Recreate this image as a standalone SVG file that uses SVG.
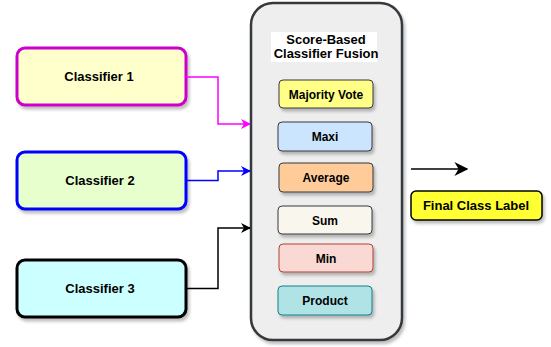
<svg xmlns="http://www.w3.org/2000/svg" width="551" height="347" viewBox="0 0 551 347">
  <style>
    text { font-family: "Liberation Sans", Arial, Helvetica, sans-serif; font-weight: bold; fill: #000; text-anchor: middle; }
    .big { font-size: 13px; }
    .small { font-size: 12px; }
    .box { filter: url(#shadow); }
    .conn { fill: none; stroke-width: 1.5; }
  </style>
  <defs>
    <filter id="shadow" x="-10%" y="-10%" width="130%" height="140%">
      <feDropShadow dx="2" dy="3" stdDeviation="1.5" flood-color="#000" flood-opacity="0.25"/>
    </filter>
    <marker id="arrMag" viewBox="0 0 10 10" refX="9" refY="5" markerWidth="10" markerHeight="10" markerUnits="userSpaceOnUse" orient="auto">
      <path d="M0,0 L10,5 L0,10 L3,5 Z" fill="#FF00FF"/>
    </marker>
    <marker id="arrBlue" viewBox="0 0 10 10" refX="9" refY="5" markerWidth="10" markerHeight="10" markerUnits="userSpaceOnUse" orient="auto">
      <path d="M0,0 L10,5 L0,10 L3,5 Z" fill="#0000FF"/>
    </marker>
    <marker id="arrBlack" viewBox="0 0 10 10" refX="9" refY="5" markerWidth="10" markerHeight="10" markerUnits="userSpaceOnUse" orient="auto">
      <path d="M0,0 L10,5 L0,10 L3,5 Z" fill="#000"/>
    </marker>
    <marker id="arrBig" viewBox="0 0 10 10" refX="9" refY="5" markerWidth="15" markerHeight="14" markerUnits="userSpaceOnUse" orient="auto">
      <path d="M0,0 L10,5 L0,10 L3,5 Z" fill="#000"/>
    </marker>
  </defs>

  <!-- fusion container -->
  <g id="fusion">
    <rect class="box" x="251" y="3" width="151" height="337" rx="22" fill="#EEEEEE" stroke="#36393D" stroke-width="2.5"/>
    <rect x="271" y="32" width="106" height="30" fill="#FFFFFF"/>
    <text class="big" x="326" y="44">Score-Based</text>
    <text class="big" x="326" y="58">Classifier Fusion</text>
  </g>

  <g id="majority-vote">
    <rect class="box" x="279" y="80" width="94" height="28" rx="4" fill="#FFFF88" stroke="#36393D"/>
    <text class="small" x="326" y="98.5">Majority Vote</text>
  </g>
  <g id="maxi">
    <rect class="box" x="278" y="122" width="94" height="29" rx="4" fill="#CCE5FF" stroke="#36393D"/>
    <text class="small" x="325" y="141">Maxi</text>
  </g>
  <g id="average">
    <rect class="box" x="279" y="163" width="94" height="29" rx="4" fill="#FFCC99" stroke="#36393D"/>
    <text class="small" x="326" y="182">Average</text>
  </g>
  <g id="sum">
    <rect class="box" x="278" y="206" width="94" height="28" rx="4" fill="#F9F7ED" stroke="#36393D"/>
    <text class="small" x="325" y="224.5">Sum</text>
  </g>
  <g id="min">
    <rect class="box" x="279" y="244" width="94" height="28" rx="4" fill="#FAD9D5" stroke="#AE4132"/>
    <text class="small" x="326" y="262.5">Min</text>
  </g>
  <g id="product">
    <rect class="box" x="278" y="286" width="94" height="29" rx="4" fill="#B0E3E6" stroke="#0E8088"/>
    <text class="small" x="325" y="305">Product</text>
  </g>

  <!-- classifiers -->
  <g id="classifier-1">
    <rect class="box" x="17" y="48" width="169" height="57" rx="8" fill="#FFFFCC" stroke="#CC00CC" stroke-width="3"/>
    <text class="big" x="99" y="81">Classifier 1</text>
  </g>
  <g id="classifier-2">
    <rect class="box" x="17" y="152" width="169" height="57" rx="8" fill="#E6FFCC" stroke="#0000FF" stroke-width="3"/>
    <text class="big" x="100" y="185">Classifier 2</text>
  </g>
  <g id="classifier-3">
    <rect class="box" x="17" y="260" width="169" height="57" rx="8" fill="#CCFFFF" stroke="#000000" stroke-width="3"/>
    <text class="big" x="100" y="293">Classifier 3</text>
  </g>

  <g id="final-label">
    <rect class="box" x="411" y="191" width="131" height="29" rx="5" fill="#FFFF33" stroke="#000000" stroke-width="1.5"/>
    <text class="big" x="476" y="210">Final Class Label</text>
  </g>

  <!-- connectors -->
  <g id="connectors">
    <path class="conn" d="M186,77 H218 V124 H250" stroke="#FF00FF" marker-end="url(#arrMag)"/>
    <path class="conn" d="M186,180.5 H218 V171 H250" stroke="#0000FF" marker-end="url(#arrBlue)"/>
    <path class="conn" d="M186,288.5 H218 V228 H250" stroke="#000000" marker-end="url(#arrBlack)"/>
    <path class="conn" d="M411,169 H467" stroke="#000000" stroke-width="2" marker-end="url(#arrBig)"/>
  </g>
</svg>
